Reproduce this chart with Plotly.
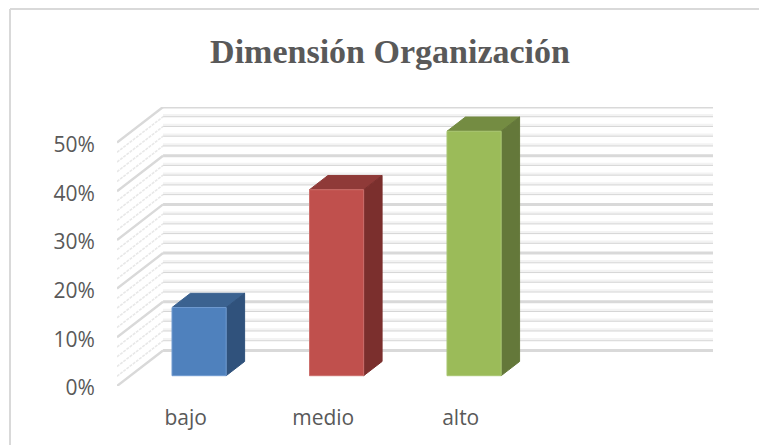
import plotly.graph_objects as go

# --- data ---
categories = ["bajo", "medio", "alto"]
values = [14.0, 38.2, 50.2]
tick_values = [0, 10, 20, 30, 40, 50]
tick_labels = ["0%", "10%", "20%", "30%", "40%", "50%"]
grid_minor = [2, 4, 6, 8, 12, 14, 16, 18, 22, 24, 26, 28, 32, 34, 36, 38, 42, 44, 46, 48]
front_colors = ["#4f81bd", "#c0504d", "#9bbb59"]
top_colors = ["#3b6290", "#8f3a38", "#748c42"]
side_colors = ["#30527c", "#7b2f2d", "#64783a"]
edge_colors = ["#6f9ad0", "#cc6f6c", "#a9c673"]
title_text = "Dimensión Organización"

# --- oblique projection ---
W, H = 759, 445
DX, DY = 0.335, 7.3      # shift of the back wall, in axis units
X0, X1 = -0.5, 3.5       # four category slots
Z0, Z1 = 0.29, 0.69      # depth span of the bars
BAR = 0.197              # half width of a bar


def proj(x, y, z):
    return x + z * DX, y + z * DY


def path(points):
    xs, ys = zip(*[proj(*p) for p in points])
    return list(xs), list(ys)


def lines_trace(levels, color, width, wall, shift=0.0, dash=None):
    xs, ys = [], []
    for v in levels:
        if wall == "back":
            a, b = path([(X0, v + shift, 1), (X1, v + shift, 1)])
        else:
            a, b = path([(X0, v + shift, 0), (X0, v + shift, 1)])
        xs += a + [None]
        ys += b + [None]
    return go.Scatter(x=xs, y=ys, mode="lines", hoverinfo="skip", showlegend=False, cliponaxis=False,
                      line=dict(color=color, width=width, dash=dash))


def face(points, color, edge):
    xs, ys = path(points + points[:1])
    return go.Scatter(x=xs, y=ys, mode="lines", fill="toself", fillcolor=color, hoverinfo="skip",
                      showlegend=False, cliponaxis=False, line=dict(color=edge, width=1))


fig = go.Figure()

# walls
fig.add_trace(lines_trace(grid_minor, "#f3f3f3", 3, "back", 0.25))
fig.add_trace(lines_trace(grid_minor, "#d6d6d6", 1, "back"))
fig.add_trace(lines_trace(tick_values, "#d9d9d9", 3, "back"))
fig.add_trace(lines_trace(grid_minor, "#e8e8e8", 1.6, "left", dash="3px,1px"))
fig.add_trace(lines_trace(tick_values, "#d9d9d9", 2.4, "left"))

# bars
for i, v in enumerate(values):
    l, r = i - BAR, i + BAR
    fig.add_trace(face([(l, v, Z0), (r, v, Z0), (r, v, Z1), (l, v, Z1)], top_colors[i], top_colors[i]))
    fig.add_trace(face([(r, 0, Z0), (r, 0, Z1), (r, v, Z1), (r, v, Z0)], side_colors[i], side_colors[i]))
    fig.add_trace(face([(l, 0, Z0), (r, 0, Z0), (r, v, Z0), (l, v, Z0)], front_colors[i], edge_colors[i]))

axis_font = dict(family="Open Sans", size=21, color="#595959")
fig.update_layout(
    width=W, height=H,
    margin=dict(l=0, r=0, t=0, b=0, autoexpand=False),
    paper_bgcolor="white", plot_bgcolor="white",
    showlegend=False,
    title=dict(text="<b>" + title_text + "</b>", x=390 / W, y=1 - 51 / H, xanchor="center", yanchor="middle",
               xref="paper", yref="paper",
               font=dict(family="Liberation Serif", size=34, color="#595959")),
    xaxis=dict(domain=[117 / W, 713 / W], range=[X0, X1 + DX], tickmode="array", automargin=False,
               tickvals=list(range(len(categories))), ticktext=categories, tickfont=axis_font,
               showgrid=False, zeroline=False, showline=False, ticks="outside", ticklen=13,
               tickcolor="rgba(0,0,0,0)"),
    yaxis=dict(domain=[1 - 386 / H, 1 - 107 / H], range=[0, 50 + DY], tickmode="array", automargin=False,
               tickvals=tick_values, ticktext=tick_labels, tickfont=axis_font,
               showgrid=False, zeroline=False, showline=False, ticks="outside", ticklen=17,
               ticklabelshift=2, tickcolor="rgba(0,0,0,0)"),
    shapes=[
        dict(type="line", xref="paper", yref="paper", x0=10 / W, x1=1, y0=1 - 9 / H, y1=1 - 9 / H,
             line=dict(color="#d9d9d9", width=2)),
        dict(type="line", xref="paper", yref="paper", x0=10 / W, x1=10 / W, y0=0, y1=1 - 9 / H,
             line=dict(color="#d9d9d9", width=2)),
    ],
)
fig.write_html("out.html", config={"displayModeBar": False},
               post_script="document.body.style.margin='0';document.body.style.overflow='hidden';")
